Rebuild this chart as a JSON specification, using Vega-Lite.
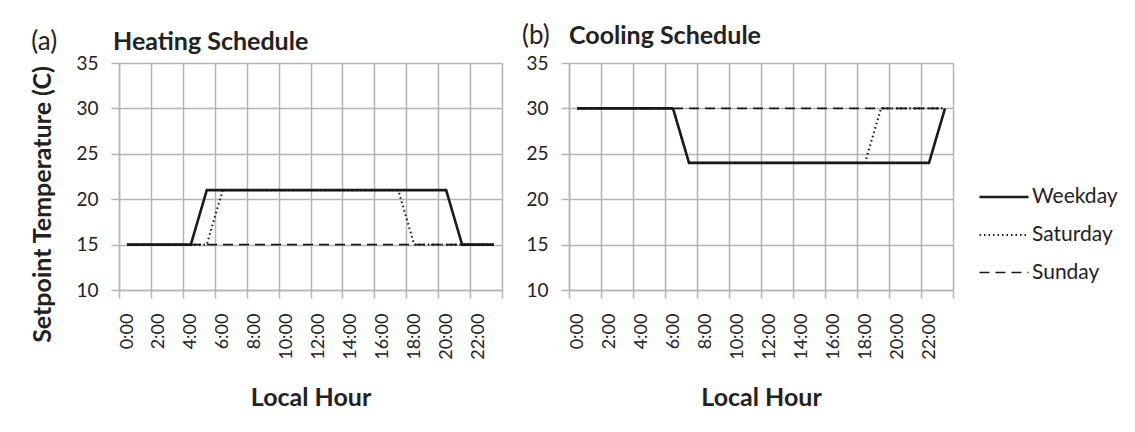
{
  "$schema": "https://vega.github.io/schema/vega-lite/v6.json",
  "background": "white",
  "padding": {"left": 30, "top": 22, "right": 5, "bottom": 5},
  "datasets": {
    "labels": [{"panel": "Heating", "tag": "(a)"}, {"panel": "Cooling", "tag": "(b)"}],
    "schedule": [
    {"panel":"Heating","day":"Weekday","hour":0,"temp":15},{"panel":"Heating","day":"Weekday","hour":1,"temp":15},{"panel":"Heating","day":"Weekday","hour":2,"temp":15},{"panel":"Heating","day":"Weekday","hour":3,"temp":15},{"panel":"Heating","day":"Weekday","hour":4,"temp":15},{"panel":"Heating","day":"Weekday","hour":5,"temp":21},{"panel":"Heating","day":"Weekday","hour":6,"temp":21},{"panel":"Heating","day":"Weekday","hour":7,"temp":21},{"panel":"Heating","day":"Weekday","hour":8,"temp":21},{"panel":"Heating","day":"Weekday","hour":9,"temp":21},{"panel":"Heating","day":"Weekday","hour":10,"temp":21},{"panel":"Heating","day":"Weekday","hour":11,"temp":21},{"panel":"Heating","day":"Weekday","hour":12,"temp":21},{"panel":"Heating","day":"Weekday","hour":13,"temp":21},{"panel":"Heating","day":"Weekday","hour":14,"temp":21},{"panel":"Heating","day":"Weekday","hour":15,"temp":21},{"panel":"Heating","day":"Weekday","hour":16,"temp":21},{"panel":"Heating","day":"Weekday","hour":17,"temp":21},{"panel":"Heating","day":"Weekday","hour":18,"temp":21},{"panel":"Heating","day":"Weekday","hour":19,"temp":21},{"panel":"Heating","day":"Weekday","hour":20,"temp":21},{"panel":"Heating","day":"Weekday","hour":21,"temp":15},{"panel":"Heating","day":"Weekday","hour":22,"temp":15},{"panel":"Heating","day":"Weekday","hour":23,"temp":15},
    {"panel":"Heating","day":"Saturday","hour":0,"temp":15},{"panel":"Heating","day":"Saturday","hour":1,"temp":15},{"panel":"Heating","day":"Saturday","hour":2,"temp":15},{"panel":"Heating","day":"Saturday","hour":3,"temp":15},{"panel":"Heating","day":"Saturday","hour":4,"temp":15},{"panel":"Heating","day":"Saturday","hour":5,"temp":15},{"panel":"Heating","day":"Saturday","hour":6,"temp":21},{"panel":"Heating","day":"Saturday","hour":7,"temp":21},{"panel":"Heating","day":"Saturday","hour":8,"temp":21},{"panel":"Heating","day":"Saturday","hour":9,"temp":21},{"panel":"Heating","day":"Saturday","hour":10,"temp":21},{"panel":"Heating","day":"Saturday","hour":11,"temp":21},{"panel":"Heating","day":"Saturday","hour":12,"temp":21},{"panel":"Heating","day":"Saturday","hour":13,"temp":21},{"panel":"Heating","day":"Saturday","hour":14,"temp":21},{"panel":"Heating","day":"Saturday","hour":15,"temp":21},{"panel":"Heating","day":"Saturday","hour":16,"temp":21},{"panel":"Heating","day":"Saturday","hour":17,"temp":21},{"panel":"Heating","day":"Saturday","hour":18,"temp":15},{"panel":"Heating","day":"Saturday","hour":19,"temp":15},{"panel":"Heating","day":"Saturday","hour":20,"temp":15},{"panel":"Heating","day":"Saturday","hour":21,"temp":15},{"panel":"Heating","day":"Saturday","hour":22,"temp":15},{"panel":"Heating","day":"Saturday","hour":23,"temp":15},
    {"panel":"Heating","day":"Sunday","hour":0,"temp":15},{"panel":"Heating","day":"Sunday","hour":1,"temp":15},{"panel":"Heating","day":"Sunday","hour":2,"temp":15},{"panel":"Heating","day":"Sunday","hour":3,"temp":15},{"panel":"Heating","day":"Sunday","hour":4,"temp":15},{"panel":"Heating","day":"Sunday","hour":5,"temp":15},{"panel":"Heating","day":"Sunday","hour":6,"temp":15},{"panel":"Heating","day":"Sunday","hour":7,"temp":15},{"panel":"Heating","day":"Sunday","hour":8,"temp":15},{"panel":"Heating","day":"Sunday","hour":9,"temp":15},{"panel":"Heating","day":"Sunday","hour":10,"temp":15},{"panel":"Heating","day":"Sunday","hour":11,"temp":15},{"panel":"Heating","day":"Sunday","hour":12,"temp":15},{"panel":"Heating","day":"Sunday","hour":13,"temp":15},{"panel":"Heating","day":"Sunday","hour":14,"temp":15},{"panel":"Heating","day":"Sunday","hour":15,"temp":15},{"panel":"Heating","day":"Sunday","hour":16,"temp":15},{"panel":"Heating","day":"Sunday","hour":17,"temp":15},{"panel":"Heating","day":"Sunday","hour":18,"temp":15},{"panel":"Heating","day":"Sunday","hour":19,"temp":15},{"panel":"Heating","day":"Sunday","hour":20,"temp":15},{"panel":"Heating","day":"Sunday","hour":21,"temp":15},{"panel":"Heating","day":"Sunday","hour":22,"temp":15},{"panel":"Heating","day":"Sunday","hour":23,"temp":15},
    {"panel":"Cooling","day":"Weekday","hour":0,"temp":30},{"panel":"Cooling","day":"Weekday","hour":1,"temp":30},{"panel":"Cooling","day":"Weekday","hour":2,"temp":30},{"panel":"Cooling","day":"Weekday","hour":3,"temp":30},{"panel":"Cooling","day":"Weekday","hour":4,"temp":30},{"panel":"Cooling","day":"Weekday","hour":5,"temp":30},{"panel":"Cooling","day":"Weekday","hour":6,"temp":30},{"panel":"Cooling","day":"Weekday","hour":7,"temp":24},{"panel":"Cooling","day":"Weekday","hour":8,"temp":24},{"panel":"Cooling","day":"Weekday","hour":9,"temp":24},{"panel":"Cooling","day":"Weekday","hour":10,"temp":24},{"panel":"Cooling","day":"Weekday","hour":11,"temp":24},{"panel":"Cooling","day":"Weekday","hour":12,"temp":24},{"panel":"Cooling","day":"Weekday","hour":13,"temp":24},{"panel":"Cooling","day":"Weekday","hour":14,"temp":24},{"panel":"Cooling","day":"Weekday","hour":15,"temp":24},{"panel":"Cooling","day":"Weekday","hour":16,"temp":24},{"panel":"Cooling","day":"Weekday","hour":17,"temp":24},{"panel":"Cooling","day":"Weekday","hour":18,"temp":24},{"panel":"Cooling","day":"Weekday","hour":19,"temp":24},{"panel":"Cooling","day":"Weekday","hour":20,"temp":24},{"panel":"Cooling","day":"Weekday","hour":21,"temp":24},{"panel":"Cooling","day":"Weekday","hour":22,"temp":24},{"panel":"Cooling","day":"Weekday","hour":23,"temp":30},
    {"panel":"Cooling","day":"Saturday","hour":0,"temp":30},{"panel":"Cooling","day":"Saturday","hour":1,"temp":30},{"panel":"Cooling","day":"Saturday","hour":2,"temp":30},{"panel":"Cooling","day":"Saturday","hour":3,"temp":30},{"panel":"Cooling","day":"Saturday","hour":4,"temp":30},{"panel":"Cooling","day":"Saturday","hour":5,"temp":30},{"panel":"Cooling","day":"Saturday","hour":6,"temp":30},{"panel":"Cooling","day":"Saturday","hour":7,"temp":24},{"panel":"Cooling","day":"Saturday","hour":8,"temp":24},{"panel":"Cooling","day":"Saturday","hour":9,"temp":24},{"panel":"Cooling","day":"Saturday","hour":10,"temp":24},{"panel":"Cooling","day":"Saturday","hour":11,"temp":24},{"panel":"Cooling","day":"Saturday","hour":12,"temp":24},{"panel":"Cooling","day":"Saturday","hour":13,"temp":24},{"panel":"Cooling","day":"Saturday","hour":14,"temp":24},{"panel":"Cooling","day":"Saturday","hour":15,"temp":24},{"panel":"Cooling","day":"Saturday","hour":16,"temp":24},{"panel":"Cooling","day":"Saturday","hour":17,"temp":24},{"panel":"Cooling","day":"Saturday","hour":18,"temp":24},{"panel":"Cooling","day":"Saturday","hour":19,"temp":30},{"panel":"Cooling","day":"Saturday","hour":20,"temp":30},{"panel":"Cooling","day":"Saturday","hour":21,"temp":30},{"panel":"Cooling","day":"Saturday","hour":22,"temp":30},{"panel":"Cooling","day":"Saturday","hour":23,"temp":30},
    {"panel":"Cooling","day":"Sunday","hour":0,"temp":30},{"panel":"Cooling","day":"Sunday","hour":1,"temp":30},{"panel":"Cooling","day":"Sunday","hour":2,"temp":30},{"panel":"Cooling","day":"Sunday","hour":3,"temp":30},{"panel":"Cooling","day":"Sunday","hour":4,"temp":30},{"panel":"Cooling","day":"Sunday","hour":5,"temp":30},{"panel":"Cooling","day":"Sunday","hour":6,"temp":30},{"panel":"Cooling","day":"Sunday","hour":7,"temp":30},{"panel":"Cooling","day":"Sunday","hour":8,"temp":30},{"panel":"Cooling","day":"Sunday","hour":9,"temp":30},{"panel":"Cooling","day":"Sunday","hour":10,"temp":30},{"panel":"Cooling","day":"Sunday","hour":11,"temp":30},{"panel":"Cooling","day":"Sunday","hour":12,"temp":30},{"panel":"Cooling","day":"Sunday","hour":13,"temp":30},{"panel":"Cooling","day":"Sunday","hour":14,"temp":30},{"panel":"Cooling","day":"Sunday","hour":15,"temp":30},{"panel":"Cooling","day":"Sunday","hour":16,"temp":30},{"panel":"Cooling","day":"Sunday","hour":17,"temp":30},{"panel":"Cooling","day":"Sunday","hour":18,"temp":30},{"panel":"Cooling","day":"Sunday","hour":19,"temp":30},{"panel":"Cooling","day":"Sunday","hour":20,"temp":30},{"panel":"Cooling","day":"Sunday","hour":21,"temp":30},{"panel":"Cooling","day":"Sunday","hour":22,"temp":30},{"panel":"Cooling","day":"Sunday","hour":23,"temp":30}
  ]},
  "resolve": {"legend": {"strokeDash": "independent", "strokeWidth": "independent"}},
  "hconcat": [
    {
      "width": 383,
      "height": 227,
      "title": {"text": "Heating Schedule", "anchor": "start", "frame": "group", "dx": -6, "offset": -26},
      "layer": [
        {
          "data": {"name": "schedule"},
          "transform": [{"filter": "datum.panel == 'Heating'"}],
          "mark": {"type": "line", "color": "#1a1a1a", "clip": false},
          "encoding": {
            "x": {"field": "hour", "type": "quantitative",
                  "scale": {"domain": [-0.5, 23.5], "nice": false, "zero": false},
                  "axis": {"values": [-0.5, 1.5, 3.5, 5.5, 7.5, 9.5, 11.5, 13.5, 15.5, 17.5, 19.5, 21.5, 23.5],
                           "labelExpr": "datum.value > 23 ? '' : (datum.value + 0.5) + ':00'",
                           "labelFontSize": {"condition": {"test": "datum.value > 23", "value": 0}, "value": 18},
                           "labelAngle": -90, "labelOffset": 8, "labelPadding": 15, "labelFlush": false, "labelOverlap": false,
                           "title": "Local Hour", "titlePadding": 26}},
            "y": {"field": "temp", "type": "quantitative",
                  "scale": {"domain": [10, 35], "nice": false, "zero": false},
                  "axis": {"values": [10, 15, 20, 25, 30, 35], "labelPadding": 13, "title": "Setpoint Temperature (C)", "titlePadding": 20, "titleY": 141}},
            "strokeDash": {"field": "day", "type": "nominal",
                  "scale": {"domain": ["Weekday", "Saturday", "Sunday"], "range": [[1, 0], [1.5, 3], [10, 6]]},
                  "legend": null},
            "strokeWidth": {"field": "day", "type": "nominal",
                  "scale": {"domain": ["Weekday", "Saturday", "Sunday"], "range": [2.6, 1.6, 2.6]},
                  "legend": null}
          }
        },
        {
          "data": {"name": "labels"},
          "transform": [{"filter": "datum.panel == 'Heating'"}],
          "mark": {"type": "text", "align": "left", "baseline": "alphabetic", "fontSize": 26, "color": "#222", "clip": false},
          "encoding": {
            "x": {"datum": -6.0, "type": "quantitative",
                  "axis": {"values": [-0.5, 1.5, 3.5, 5.5, 7.5, 9.5, 11.5, 13.5, 15.5, 17.5, 19.5, 21.5, 23.5],
                           "labelExpr": "datum.value > 23 ? '' : (datum.value + 0.5) + ':00'",
                           "labelFontSize": {"condition": {"test": "datum.value > 23", "value": 0}, "value": 18},
                           "labelAngle": -90, "labelOffset": 8, "labelPadding": 15, "labelFlush": false, "labelOverlap": false,
                           "title": "Local Hour", "titlePadding": 26}},
            "y": {"datum": 36.43, "type": "quantitative",
                  "axis": {"values": [10, 15, 20, 25, 30, 35], "labelPadding": 13, "title": "Setpoint Temperature (C)", "titlePadding": 20, "titleY": 141}},
            "text": {"field": "tag"}
          }
        }
      ]
    },
    {
      "width": 384,
      "height": 227,
      "title": {"text": "Cooling Schedule", "anchor": "start", "frame": "group", "dx": 0, "offset": -26},
      "layer": [
        {
          "data": {"name": "schedule"},
          "transform": [{"filter": "datum.panel == 'Cooling'"}],
          "mark": {"type": "line", "color": "#1a1a1a", "clip": false},
          "encoding": {
            "x": {"field": "hour", "type": "quantitative",
                  "scale": {"domain": [-0.5, 23.5], "nice": false, "zero": false},
                  "axis": {"values": [-0.5, 1.5, 3.5, 5.5, 7.5, 9.5, 11.5, 13.5, 15.5, 17.5, 19.5, 21.5, 23.5],
                           "labelExpr": "datum.value > 23 ? '' : (datum.value + 0.5) + ':00'",
                           "labelFontSize": {"condition": {"test": "datum.value > 23", "value": 0}, "value": 18},
                           "labelAngle": -90, "labelOffset": 8, "labelPadding": 15, "labelFlush": false, "labelOverlap": false,
                           "title": "Local Hour", "titlePadding": 26}},
            "y": {"field": "temp", "type": "quantitative",
                  "scale": {"domain": [10, 35], "nice": false, "zero": false},
                  "axis": {"values": [10, 15, 20, 25, 30, 35], "labelPadding": 13, "title": null}},
            "strokeDash": {"field": "day", "type": "nominal",
                  "scale": {"domain": ["Weekday", "Saturday", "Sunday"], "range": [[1, 0], [1.5, 3], [10, 6]]},
                  "legend": {"orient": "none", "legendX": 409, "legendY": 108, "title": null,
                             "symbolType": "stroke", "symbolSize": 2400, "symbolStrokeColor": "#1a1a1a",
                             "labelFontSize": 21, "labelColor": "#222", "labelOffset": 2, "rowPadding": 2, "padding": 0}},
            "strokeWidth": {"field": "day", "type": "nominal",
                  "scale": {"domain": ["Weekday", "Saturday", "Sunday"], "range": [2.6, 1.6, 2.6]},
                  "legend": {"orient": "none", "legendX": 409, "legendY": 108, "title": null,
                             "symbolType": "stroke", "symbolSize": 2400, "symbolStrokeColor": "#1a1a1a",
                             "labelFontSize": 21, "labelColor": "#222", "labelOffset": 2, "rowPadding": 2, "padding": 0}}
          }
        },
        {
          "data": {"name": "labels"},
          "transform": [{"filter": "datum.panel == 'Cooling'"}],
          "mark": {"type": "text", "align": "left", "baseline": "alphabetic", "fontSize": 26, "color": "#222", "clip": false},
          "encoding": {
            "x": {"datum": -3.44, "type": "quantitative",
                  "axis": {"values": [-0.5, 1.5, 3.5, 5.5, 7.5, 9.5, 11.5, 13.5, 15.5, 17.5, 19.5, 21.5, 23.5],
                           "labelExpr": "datum.value > 23 ? '' : (datum.value + 0.5) + ':00'",
                           "labelFontSize": {"condition": {"test": "datum.value > 23", "value": 0}, "value": 18},
                           "labelAngle": -90, "labelOffset": 8, "labelPadding": 15, "labelFlush": false, "labelOverlap": false,
                           "title": "Local Hour", "titlePadding": 26}},
            "y": {"datum": 37.1, "type": "quantitative",
                  "axis": {"values": [10, 15, 20, 25, 30, 35], "labelPadding": 13, "title": null}},
            "text": {"field": "tag"}
          }
        }
      ]
    }
  ],
  "config": {
    "font": "Lato",
    "view": {"stroke": null},
    "concat": {"spacing": 11},
    "title": {"fontSize": 25, "fontWeight": "bold", "color": "#222", "font": "Lato"},
    "axis": {
      "gridColor": "#b4b4b4", "gridWidth": 1.5, "gridOpacity": 1,
      "domainColor": "#b4b4b4", "domainWidth": 1.5,
      "tickColor": "#b4b4b4", "tickWidth": 1.5, "tickSize": 8,
      "labelColor": "#222", "labelFontSize": 19, "labelFont": "Lato",
      "titleColor": "#222", "titleFontWeight": "bold", "titleFontSize": 25, "titleFont": "Lato"
    }
  }
}
